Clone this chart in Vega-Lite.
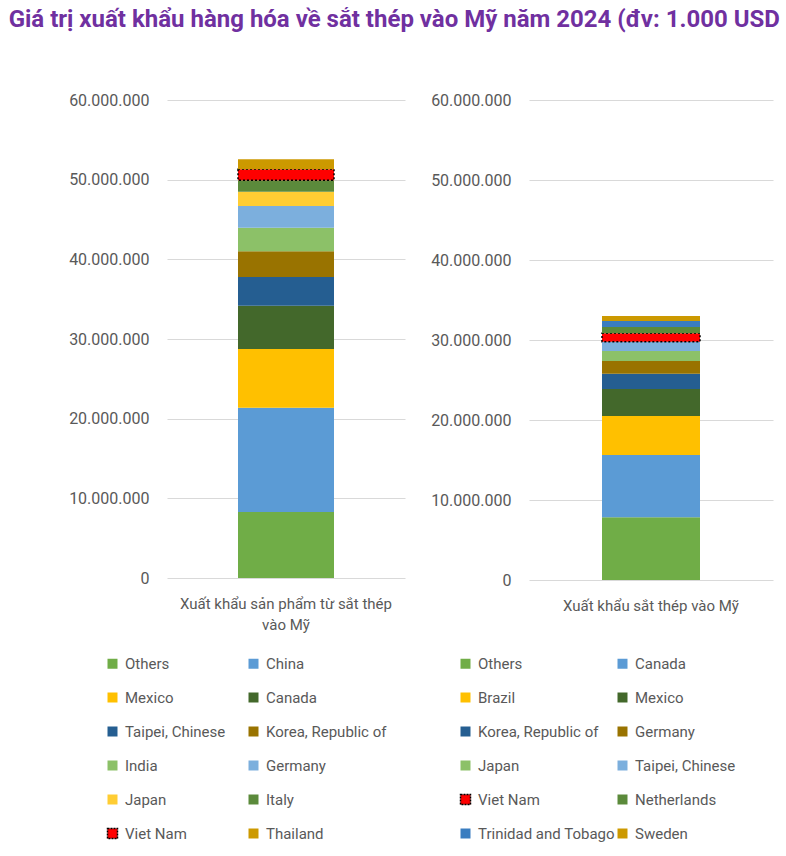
{
  "$schema": "https://vega.github.io/schema/vega-lite/v6.json",
  "autosize": {"type": "pad"},
  "padding": {"left": 8, "top": 8, "right": 0, "bottom": 0},
  "background": "white",
  "title": {
    "text": "Giá trị xuất khẩu hàng hóa về sắt thép vào Mỹ năm 2024 (đv: 1.000 USD",
    "anchor": "start",
    "dx": -60,
    "font": "Roboto",
    "fontSize": 24,
    "fontWeight": "bold",
    "color": "#7030A0",
    "offset": 60
  },
  "config": {
    "view": {"stroke": null},
    "font": "Roboto",
    "axis": {"labelFont": "Roboto", "labelColor": "#595959"}
  },
  "spacing": 25,
  "resolve": {"scale": {"color": "independent", "y": "independent", "x": "independent"}},
  "hconcat": [
    {
      "width": 238,
      "height": 478,
      "data": {"values": [
        {"cat": "Xuất khẩu sản phẩm từ sắt thép vào Mỹ", "country": "Others", "ord": 1, "value": 8280000},
        {"cat": "Xuất khẩu sản phẩm từ sắt thép vào Mỹ", "country": "China", "ord": 2, "value": 13090000},
        {"cat": "Xuất khẩu sản phẩm từ sắt thép vào Mỹ", "country": "Mexico", "ord": 3, "value": 7360000},
        {"cat": "Xuất khẩu sản phẩm từ sắt thép vào Mỹ", "country": "Canada", "ord": 4, "value": 5440000},
        {"cat": "Xuất khẩu sản phẩm từ sắt thép vào Mỹ", "country": "Taipei, Chinese", "ord": 5, "value": 3600000},
        {"cat": "Xuất khẩu sản phẩm từ sắt thép vào Mỹ", "country": "Korea, Republic of", "ord": 6, "value": 3260000},
        {"cat": "Xuất khẩu sản phẩm từ sắt thép vào Mỹ", "country": "India", "ord": 7, "value": 2920000},
        {"cat": "Xuất khẩu sản phẩm từ sắt thép vào Mỹ", "country": "Germany", "ord": 8, "value": 2760000},
        {"cat": "Xuất khẩu sản phẩm từ sắt thép vào Mỹ", "country": "Japan", "ord": 9, "value": 1760000},
        {"cat": "Xuất khẩu sản phẩm từ sắt thép vào Mỹ", "country": "Italy", "ord": 10, "value": 1470000},
        {"cat": "Xuất khẩu sản phẩm từ sắt thép vào Mỹ", "country": "Viet Nam", "ord": 11, "value": 1380000},
        {"cat": "Xuất khẩu sản phẩm từ sắt thép vào Mỹ", "country": "Thailand", "ord": 12, "value": 1250000}
      ]},
      "mark": {"type": "bar", "width": 96, "stroke": "black", "strokeDash": [2, 2]},
      "encoding": {
        "x": {"field": "cat", "type": "nominal", "title": null,
          "axis": {"labelAngle": 0, "domain": false, "ticks": false, "labelFontSize": 15, "labelPadding": 18, "labelLineHeight": 21, "labelLimit": 400,
            "labelExpr": "datum.value == 'Xuất khẩu sản phẩm từ sắt thép vào Mỹ' ? ['Xuất khẩu sản phẩm từ sắt thép', 'vào Mỹ'] : datum.value"}},
        "y": {"field": "value", "type": "quantitative", "stack": "zero", "title": null,
          "scale": {"domain": [0, 60000000]},
          "axis": {"values": [0, 10000000, 20000000, 30000000, 40000000, 50000000, 60000000], "domain": false, "ticks": false,
            "labelExpr": "join(split(format(datum.value, ','), ','), '.')",
            "gridColor": "#D9D9D9", "labelFontSize": 16, "labelPadding": 18}},
        "color": {"field": "country", "type": "nominal",
          "scale": {"domain": ["Others", "China", "Mexico", "Canada", "Taipei, Chinese", "Korea, Republic of", "India", "Germany", "Japan", "Italy", "Viet Nam", "Thailand"],
            "range": ["#70AD47", "#5B9BD5", "#FFC000", "#43682B", "#255E91", "#997300", "#8CC168", "#7CAFDD", "#FFCD33", "#5B8A3B", "#FF0000", "#CC9900"]},
          "legend": {"title": null, "orient": "none", "legendX": -62, "legendY": 556, "columns": 2, "direction": "horizontal", "gridAlign": "all", "columnPadding": -2, "rowPadding": 17,
            "symbolType": "square", "symbolSize": 100, "symbolStrokeColor": "black", "symbolDash": [2, 1],
            "symbolStrokeWidth": {"expr": "datum.value === 'Viet Nam' ? 1.5 : 0"},
            "labelFontSize": 15, "labelColor": "#595959", "labelOffset": 5, "labelLimit": 300, "padding": 0}},
        "order": {"field": "ord", "type": "quantitative"},
        "strokeWidth": {"condition": {"test": "datum.country === 'Viet Nam'", "value": 1.5}, "value": 0}
      }
    },
    {
      "width": 244,
      "height": 480,
      "data": {"values": [
        {"cat": "Xuất khẩu sắt thép vào Mỹ", "country": "Others", "ord": 1, "value": 7840000},
        {"cat": "Xuất khẩu sắt thép vào Mỹ", "country": "Canada", "ord": 2, "value": 7790000},
        {"cat": "Xuất khẩu sắt thép vào Mỹ", "country": "Brazil", "ord": 3, "value": 4870000},
        {"cat": "Xuất khẩu sắt thép vào Mỹ", "country": "Mexico", "ord": 4, "value": 3380000},
        {"cat": "Xuất khẩu sắt thép vào Mỹ", "country": "Korea, Republic of", "ord": 5, "value": 1910000},
        {"cat": "Xuất khẩu sắt thép vào Mỹ", "country": "Germany", "ord": 6, "value": 1590000},
        {"cat": "Xuất khẩu sắt thép vào Mỹ", "country": "Japan", "ord": 7, "value": 1250000},
        {"cat": "Xuất khẩu sắt thép vào Mỹ", "country": "Taipei, Chinese", "ord": 8, "value": 1160000},
        {"cat": "Xuất khẩu sắt thép vào Mỹ", "country": "Viet Nam", "ord": 9, "value": 1040000},
        {"cat": "Xuất khẩu sắt thép vào Mỹ", "country": "Netherlands", "ord": 10, "value": 800000},
        {"cat": "Xuất khẩu sắt thép vào Mỹ", "country": "Trinidad and Tobago", "ord": 11, "value": 750000},
        {"cat": "Xuất khẩu sắt thép vào Mỹ", "country": "Sweden", "ord": 12, "value": 620000}
      ]},
      "mark": {"type": "bar", "width": 98, "stroke": "black", "strokeDash": [2, 2]},
      "encoding": {
        "x": {"field": "cat", "type": "nominal", "title": null,
          "axis": {"labelAngle": 0, "domain": false, "ticks": false, "labelFontSize": 15, "labelPadding": 18, "labelLineHeight": 21, "labelLimit": 400}},
        "y": {"field": "value", "type": "quantitative", "stack": "zero", "title": null,
          "scale": {"domain": [0, 60000000]},
          "axis": {"values": [0, 10000000, 20000000, 30000000, 40000000, 50000000, 60000000], "domain": false, "ticks": false,
            "labelExpr": "join(split(format(datum.value, ','), ','), '.')",
            "gridColor": "#D9D9D9", "labelFontSize": 16, "labelPadding": 18}},
        "color": {"field": "country", "type": "nominal",
          "scale": {"domain": ["Others", "Canada", "Brazil", "Mexico", "Korea, Republic of", "Germany", "Japan", "Taipei, Chinese", "Viet Nam", "Netherlands", "Trinidad and Tobago", "Sweden"],
            "range": ["#70AD47", "#5B9BD5", "#FFC000", "#43682B", "#255E91", "#997300", "#8CC168", "#7CAFDD", "#FF0000", "#5B8A3B", "#3A7DC0", "#CC9900"]},
          "legend": {"title": null, "orient": "none", "legendX": -71, "legendY": 556, "columns": 2, "direction": "horizontal", "gridAlign": "all", "columnPadding": -4, "rowPadding": 17,
            "symbolType": "square", "symbolSize": 100, "symbolStrokeColor": "black", "symbolDash": [2, 1],
            "symbolStrokeWidth": {"expr": "datum.value === 'Viet Nam' ? 1.5 : 0"},
            "labelFontSize": 15, "labelColor": "#595959", "labelOffset": 5, "labelLimit": 300, "padding": 0}},
        "order": {"field": "ord", "type": "quantitative"},
        "strokeWidth": {"condition": {"test": "datum.country === 'Viet Nam'", "value": 1.5}, "value": 0}
      }
    }
  ]
}
